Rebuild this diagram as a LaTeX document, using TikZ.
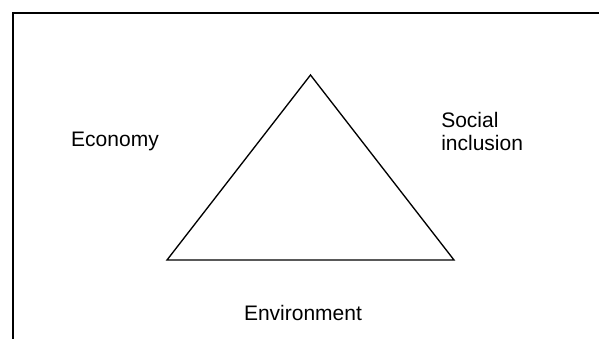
\documentclass[tikz,border=0pt]{standalone}
\usepackage{fontspec}
\setmainfont{Liberation Sans}
\usepackage{tikz}

\tikzset{
    pillar/.style = {inner sep = 0pt, font = \fontsize{15.75}{18}\selectfont},
}

\begin{document}
\begin{tikzpicture}[x = 0.75pt, y = -0.75pt]
        \useasboundingbox (0,0) rectangle (599,339);

        \coordinate (frameR) at (599,13);
        \coordinate (frameC) at (13,13);
        \coordinate (frameB) at (13,339);
        \draw[line width = 1.5pt] (frameR) -- (frameC) -- (frameB);

        \coordinate (top) at (310.5,75);
        \coordinate (left) at (167,260);
        \coordinate (right) at (454,260);
        \draw[line width = 1pt, line join = miter] (top) -- (right) -- (left) -- cycle;

        \node[pillar, anchor = base] (economy) at (115,146) {Economy};
        \node[pillar, anchor = base west] (social) at (441,127) {Social};
        \node[pillar, anchor = base west] (inclusion) at (441,150) {inclusion};
        \node[pillar, anchor = base] (environment) at (303,320) {Environment};
    \end{tikzpicture}
\end{document}
